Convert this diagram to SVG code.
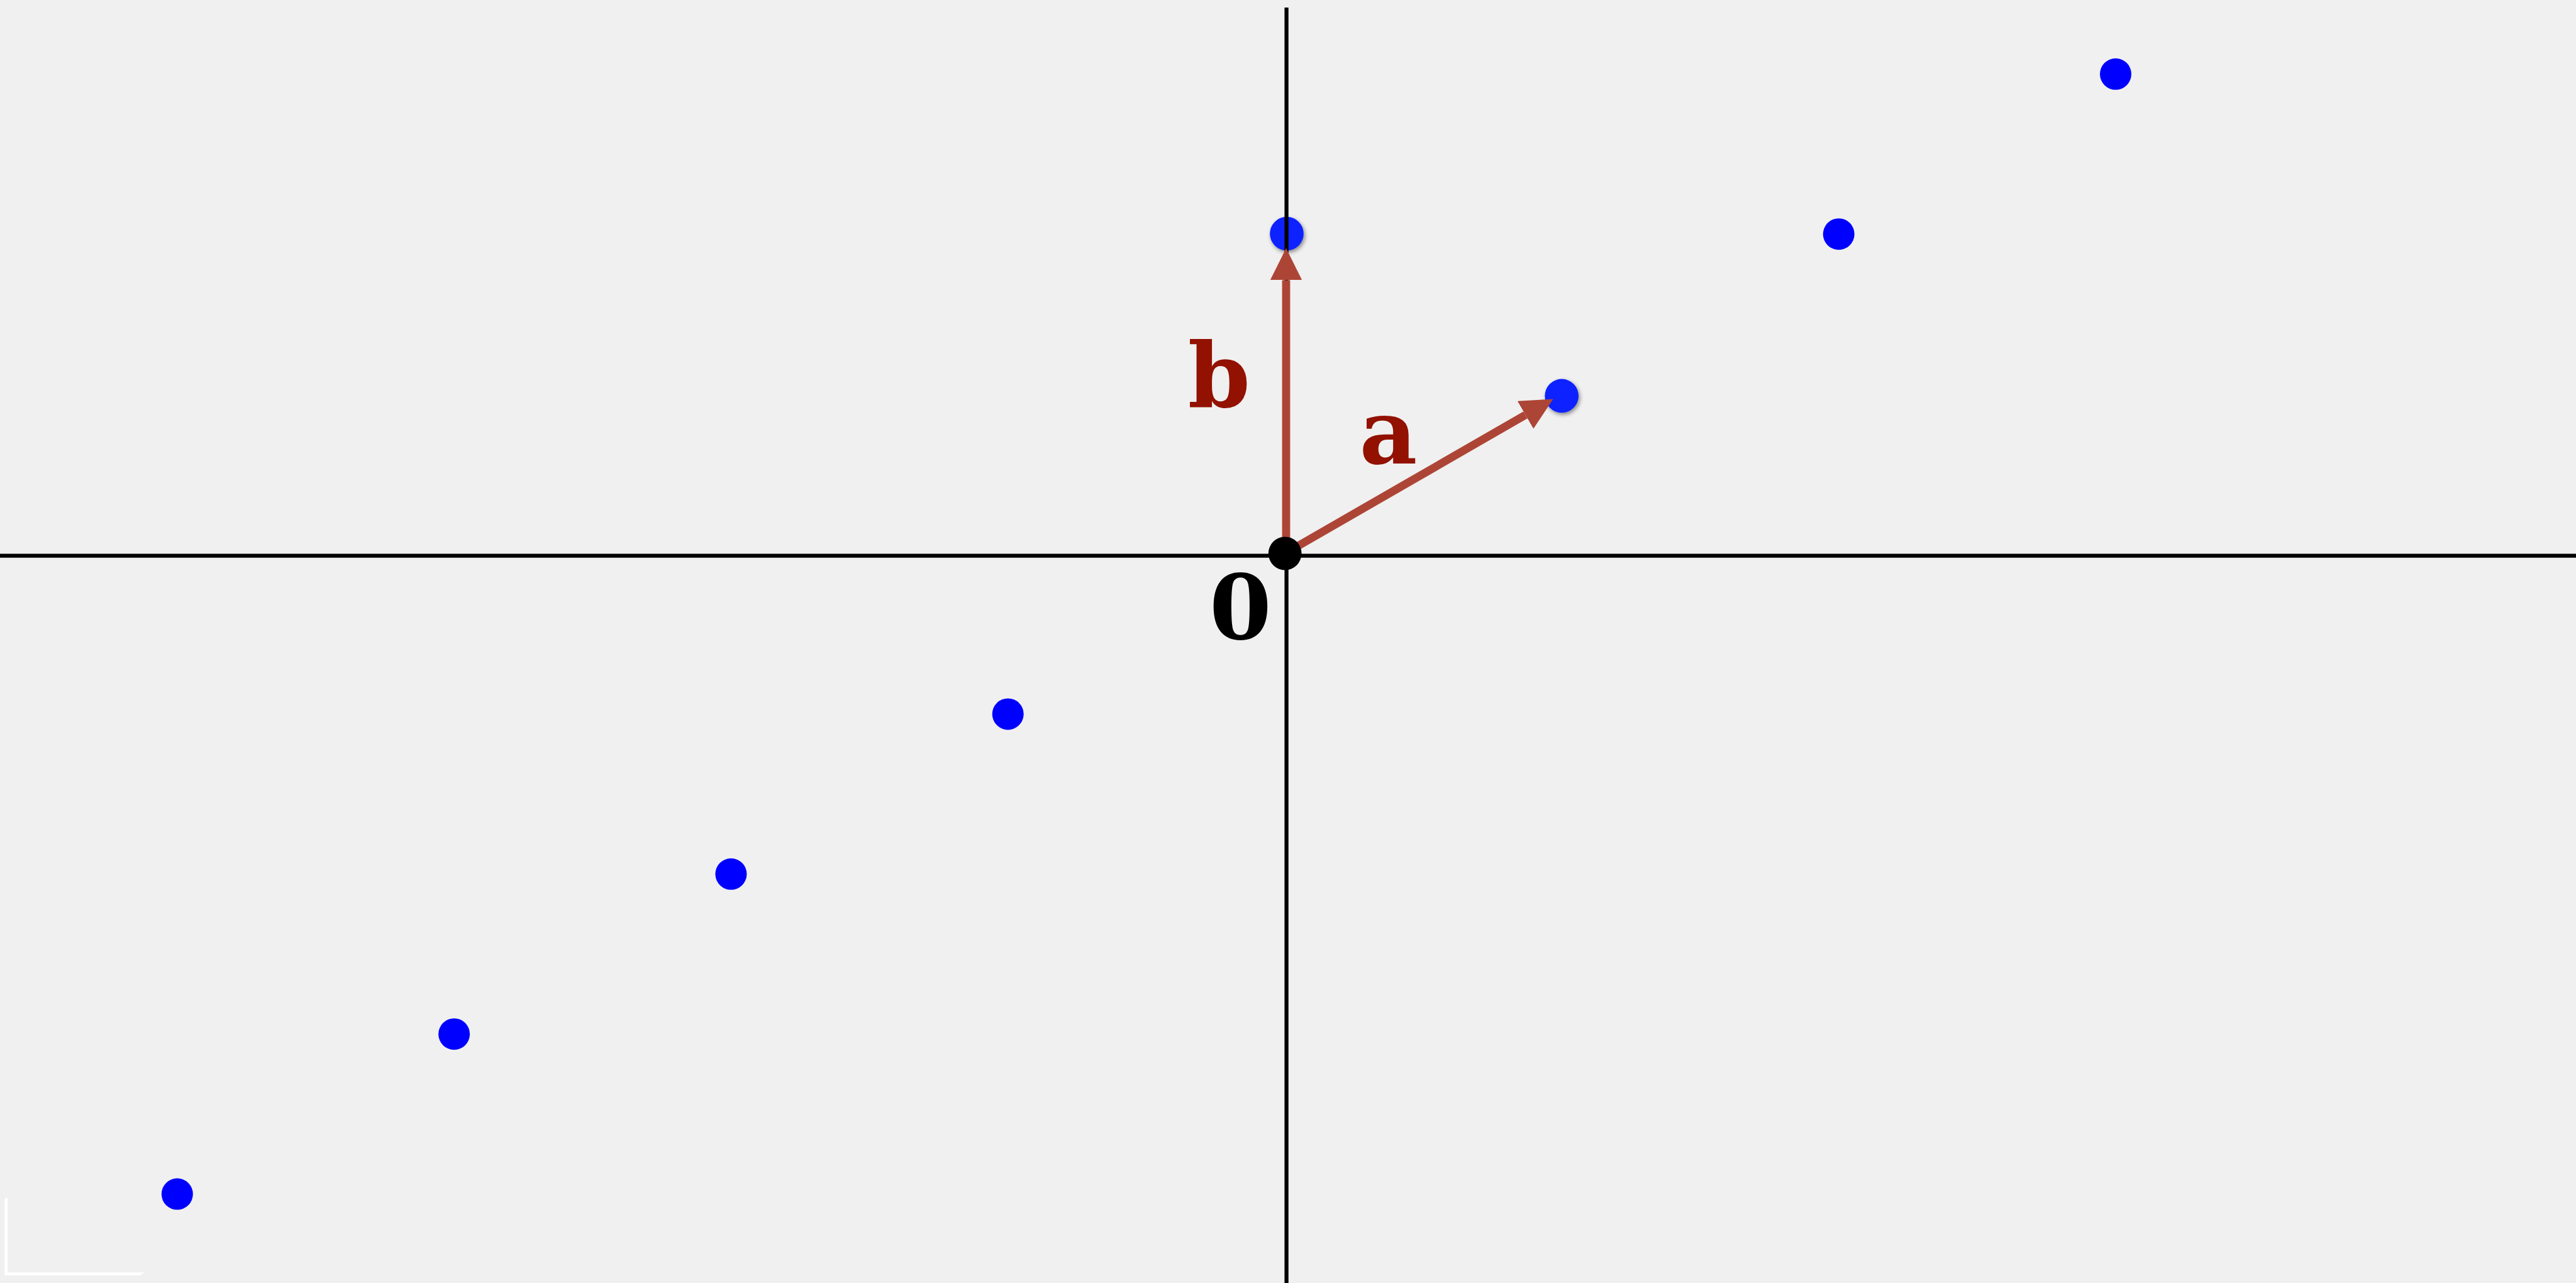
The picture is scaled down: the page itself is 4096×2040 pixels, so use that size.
<svg xmlns="http://www.w3.org/2000/svg" width="4096" height="2040" viewBox="0 0 4096 2040">
<style>
.axis{stroke:#000;stroke-width:6.3;fill:none}
.vec{stroke:#AD4536;stroke-width:12.8;fill:none}
.pt{fill:#0000FF}
.ptv{fill:#0A22FF;filter:url(#sh)}
.lbl{font-family:"DejaVu Serif","Liberation Serif",serif;font-weight:bold;font-size:142px;text-anchor:middle}
</style>
<defs>
<filter id="sh" x="-50%" y="-50%" width="200%" height="200%">
<feDropShadow dx="2" dy="3" stdDeviation="3" flood-color="#000" flood-opacity="0.45"/>
</filter>
<marker id="ah" markerUnits="userSpaceOnUse" markerWidth="52" markerHeight="52" refX="0" refY="25.3" orient="auto" viewBox="0 0 52 52">
<path d="M0,0 L50.8,25.3 L0,50.6 z" fill="#AD4536"/>
</marker>
</defs>
<rect width="4096" height="2040" fill="#F0F0F0"/>
<polygon points="7.2,1906.4 12,1904 12,2023.2 230.4,2023.2 222.4,2028 7.2,2028" fill="#FFFFFF"/>
<g id="lattice">
<circle id="p3" class="pt" cx="3364" cy="117.8" r="25"/>
<circle id="p2" class="pt" cx="2923.7" cy="372.2" r="25"/>
<circle id="pm1" class="pt" cx="1602.7" cy="1135.4" r="25"/>
<circle id="pm2" class="pt" cx="1162.4" cy="1389.8" r="25"/>
<circle id="pm3" class="pt" cx="722.1" cy="1644.2" r="25"/>
<circle id="pm4" class="pt" cx="281.8" cy="1898.6" r="25"/>
<circle id="pa" class="ptv" cx="2483.2" cy="629.4" r="26.8"/>
<circle id="pb" class="ptv" cx="2046" cy="371.6" r="26.8"/>
</g>
<g id="axes">
<line class="axis" x1="0" y1="883.6" x2="4096" y2="883.6"/>
<line class="axis" x1="2045.6" y1="12" x2="2045.6" y2="2040"/>
</g>
<g id="connectors">
<line id="vec-b" class="vec" x1="2045" y1="880" x2="2045" y2="445.4" marker-end="url(#ah)"/>
<line id="vec-a" class="vec" x1="2043.2" y1="880" x2="2425.6" y2="659.8" marker-end="url(#ah)"/>
</g>
<g id="origin">
<circle cx="2043.2" cy="880" r="26.4" fill="#000"/>
</g>
<g id="labels">
<text class="lbl" x="1938.5" y="647" fill="#921100">b</text>
<text class="lbl" x="2207.5" y="737" fill="#921100">a</text>
<text class="lbl" x="1972.5" y="1016" fill="#000">0</text>
</g>
</svg>
